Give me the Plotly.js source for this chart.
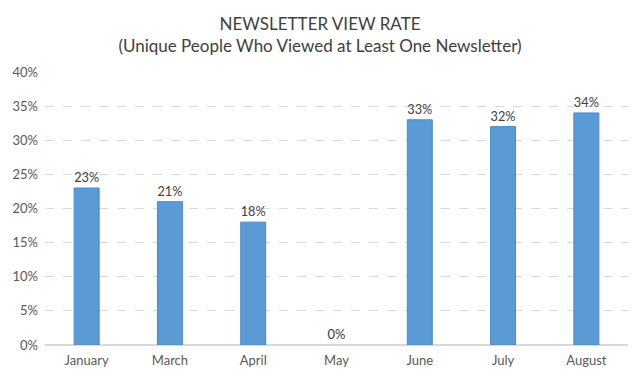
<!DOCTYPE html>
<html><head><meta charset="utf-8">
<script src="https://cdn.plot.ly/plotly-3.0.1.min.js"></script>
<style>html,body{margin:0;padding:0;background:#fff}#chart{width:640px;height:379px}</style>
</head><body><div id="chart"></div>
<script>
const months = ["January","March","April","May","June","July","August"];
const viewRate = [0.23,0.21,0.18,0,0.33,0.32,0.34];
const yTickVals = [0,0.05,0.10,0.15,0.20,0.25,0.30,0.35,0.40];
const yTickText = ["0%","5%","10%","15%","20%","25%","30%","35%","40%"];

const font = "Lato, 'Open Sans', sans-serif";
Plotly.newPlot("chart", [{
  type: "bar",
  x: months,
  y: viewRate,
  marker: {color: "#5B9BD5", line: {color: "#4A8ACB", width: viewRate.map(v => v > 0 ? 1 : 0)}},
  text: viewRate.map(v => Math.round(v*100) + "%"),
  textposition: "outside",
  cliponaxis: false,
  textfont: {family: font, size: 13, color: "#404040"},
  hoverinfo: "none"
}], {
  width: 640, height: 379,
  margin: {l: 45, r: 12, t: 72, b: 34},
  paper_bgcolor: "#fff", plot_bgcolor: "#fff",
  bargap: 0.7,
  showlegend: false,
  title: {
    text: "NEWSLETTER VIEW RATE<br>(Unique People Who Viewed at Least One Newsletter)",
    x: 0.5, xanchor: "center", y: 0.922, yanchor: "top",
    font: {family: font, size: 17, color: "#404040"}
  },
  xaxis: {
    type: "category",
    showgrid: false, showline: false, zeroline: false,
    ticks: "", tickfont: {family: font, size: 13, color: "#595959"},
    ticklabelstandoff: 6
  },
  yaxis: {
    range: [0, 0.40],
    tickvals: yTickVals, ticktext: yTickText,
    showgrid: true, gridcolor: "#D9D9D9", griddash: "dash", gridwidth: 1,
    zeroline: true, zerolinecolor: "#D9D9D9", zerolinewidth: 2,
    showline: false, ticks: "",
    tickfont: {family: font, size: 13, color: "#595959"},
    ticklabelstandoff: 6
  }
}, {staticPlot: true});
</script></body></html>
